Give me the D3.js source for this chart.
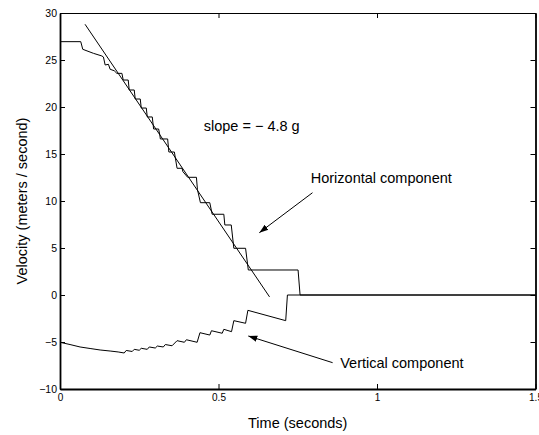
<!DOCTYPE html>
<html>
<head>
<meta charset="utf-8">
<script src="https://cdn.jsdelivr.net/npm/d3@7"></script>
<style>
  body { margin: 0; background: #fff; }
  svg { display: block; font-family: "Liberation Sans", Arial, Helvetica, sans-serif; }
  .tick text { fill: #000; }
</style>
</head>
<body>
<svg id="main_chart" width="539" height="435"></svg>
<script>
// horizontal velocity component [time, velocity]
const horizontal = [
  [0, 26.95], [0.0655, 26.95], [0.0718, 26.14], [0.1054, 25.71], [0.132, 25.43],
  [0.137, 25.32], [0.1424, 24.47], [0.1528, 24.54], [0.1582, 24.01], [0.1709, 23.86],
  [0.1794, 23.58], [0.1953, 23.58], [0.1994, 22.87], [0.2152, 22.87], [0.2184, 21.81],
  [0.2342, 21.81], [0.2373, 20.85], [0.2532, 20.85], [0.2563, 19.89], [0.2722, 19.89],
  [0.2753, 18.94], [0.2911, 18.94], [0.2953, 17.66], [0.3111, 17.66], [0.3149, 17.02],
  [0.3165, 16.6], [0.3396, 16.6], [0.3434, 15.21], [0.3608, 15.21], [0.3693, 13.48],
  [0.3851, 13.48], [0.3877, 13.12], [0.4028, 12.52], [0.4304, 12.52], [0.4335, 11.24],
  [0.443, 9.82], [0.4725, 9.82], [0.48, 8.59], [0.5168, 8.59], [0.52, 7.45],
  [0.5402, 7.45], [0.5484, 4.97], [0.5854, 4.97], [0.594, 2.66], [0.751, 2.66],
  [0.7573, 0], [1.5, 0]
];

// vertical velocity component [time, velocity]
const vertical = [
  [0, -5.03], [0.0316, -5.27], [0.0633, -5.53], [0.0949, -5.69], [0.1266, -5.85],
  [0.1582, -5.96], [0.1835, -6.06], [0.2025, -6.17], [0.2089, -5.9], [0.2278, -6.01],
  [0.2342, -5.78], [0.25, -5.88], [0.2563, -5.67], [0.2753, -5.78], [0.2816, -5.53],
  [0.3006, -5.64], [0.307, -5.43], [0.3259, -5.53], [0.3323, -5.27], [0.3535, -5.4],
  [0.3693, -4.86], [0.3924, -5.03], [0.3987, -4.76], [0.4326, -5.03], [0.4415, -4.01],
  [0.4725, -4.26], [0.4778, -3.8], [0.5117, -4.07], [0.5168, -3.65], [0.5411, -3.9],
  [0.5484, -2.73], [0.5854, -3.01], [0.5927, -1.63], [0.712, -2.73], [0.7174, 0],
  [1.5, 0]
];

// fitted line, slope = -4.8 g
const slope_line = [[0.079, 28.8], [0.661, -0.2]];

const x_ticks = [0, 0.5, 1, 1.5];
const y_ticks = [-10, -5, 0, 5, 10, 15, 20, 25, 30];

// annotations: text and arrows in data units
const labels = [
  { text: 'slope = \u2212 4.8 g', t: 0.4535, v: 17.45 },
  { text: 'Horizontal component', t: 0.791, v: 11.9 },
  { text: 'Vertical component', t: 0.884, v: -7.8 }
];
const arrows = [
  { from: [0.7965, 10.88], to: [0.6288, 6.63] },
  { from: [0.86, -7.2], to: [0.594, -4.36] }
];

const svg = d3.select('#main_chart');

const xScale = d3.scaleLinear().domain([0, 1.5]).range([60, 535.5]);
const yScale = d3.scaleLinear().domain([-10, 30]).range([389, 13]);

// AXES
svg.append('g')
  .attr('transform', `translate(0,${yScale(-10)})`)
  .call(d3.axisBottom(xScale).tickValues(x_ticks).tickFormat(d3.format('~g'))
    .tickSizeInner(-5).tickSizeOuter(0).tickPadding(5))
  .call(g => g.selectAll('text').attr('font-size', 10))
  .call(g => g.select('.domain').attr('stroke-width', 1.8));

svg.append('g')
  .attr('transform', `translate(0,${yScale(30)})`)
  .call(d3.axisTop(xScale).tickValues(x_ticks).tickFormat('')
    .tickSizeInner(-5).tickSizeOuter(0))
  .call(g => g.select('.domain').attr('stroke-width', 1.2));

svg.append('g')
  .attr('transform', `translate(${xScale(0)},0)`)
  .call(d3.axisLeft(yScale).tickValues(y_ticks)
    .tickSizeInner(-5).tickSizeOuter(0).tickPadding(3))
  .call(g => g.selectAll('text').attr('font-size', 10.5))
  .call(g => g.select('.domain').attr('stroke-width', 1.8));

svg.append('g')
  .attr('transform', `translate(${xScale(1.5)},0)`)
  .call(d3.axisRight(yScale).tickValues(y_ticks).tickFormat('')
    .tickSizeInner(-5).tickSizeOuter(0))
  .call(g => g.select('.domain').attr('stroke-width', 1.8));

svg.selectAll('.domain, .tick line').attr('stroke', '#000');

// AXIS TITLES
svg.append('text')
  .attr('x', (xScale(0) + xScale(1.5)) / 2)
  .attr('y', 428)
  .attr('text-anchor', 'middle')
  .attr('font-size', 14.5)
  .text('Time (seconds)');

svg.append('text')
  .attr('transform', `translate(26.5,${(yScale(-10) + yScale(30)) / 2}) rotate(-90)`)
  .attr('text-anchor', 'middle')
  .attr('font-size', 14.5)
  .text('Velocity (meters / second)');

// DATA LINES
const drawLine = d3.line()
  .x(d => xScale(d[0]))
  .y(d => yScale(d[1]));

[horizontal, vertical, slope_line].forEach(series => {
  svg.append('path')
    .attr('d', drawLine(series))
    .attr('fill', 'none')
    .attr('stroke', '#000')
    .attr('stroke-width', 1)
    .attr('stroke-linejoin', 'miter');
});

// ANNOTATIONS
svg.append('defs').append('marker')
  .attr('id', 'arrow_head')
  .attr('viewBox', '0 0 10 10')
  .attr('refX', 10).attr('refY', 5)
  .attr('markerWidth', 9).attr('markerHeight', 9)
  .attr('markerUnits', 'userSpaceOnUse')
  .attr('orient', 'auto')
  .append('path')
  .attr('d', 'M0,1.5 L10,5 L0,8.5 Z')
  .attr('fill', '#000');

svg.selectAll('line.arrow')
  .data(arrows)
  .enter()
  .append('line')
  .attr('class', 'arrow')
  .attr('x1', d => xScale(d.from[0]))
  .attr('y1', d => yScale(d.from[1]))
  .attr('x2', d => xScale(d.to[0]))
  .attr('y2', d => yScale(d.to[1]))
  .attr('stroke', '#000')
  .attr('stroke-width', 1)
  .attr('marker-end', 'url(#arrow_head)');

svg.selectAll('text.note')
  .data(labels)
  .enter()
  .append('text')
  .attr('class', 'note')
  .attr('x', d => xScale(d.t))
  .attr('y', d => yScale(d.v))
  .attr('font-size', 14.5)
  .text(d => d.text);
</script>
</body>
</html>
